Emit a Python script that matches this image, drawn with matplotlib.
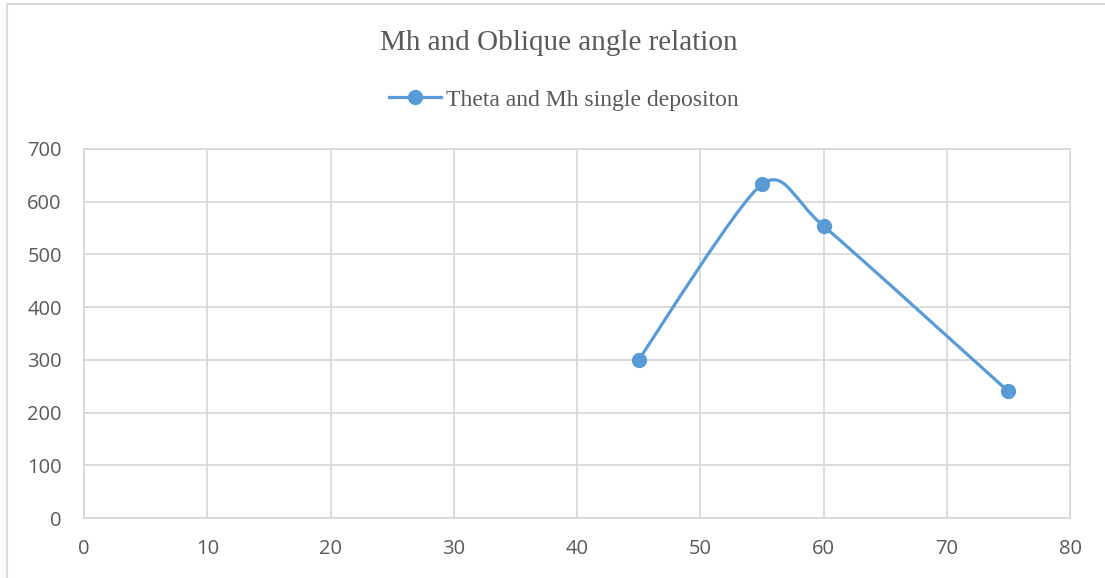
import matplotlib.pyplot as plt
from matplotlib.path import Path
from matplotlib.patches import PathPatch
from matplotlib.lines import Line2D

theta = [45, 55, 60, 75]
mh = [300, 633, 554, 240]
x_ticks = [0, 10, 20, 30, 40, 50, 60, 70, 80]
y_ticks = [0, 100, 200, 300, 400, 500, 600, 700]

blue = "#5B9BD5"
grid_c = "#D9D9D9"
text_c = "#595959"

fig = plt.figure(figsize=(11.05, 5.78), dpi=100)
ax = fig.add_axes([84 / 1105, 60 / 578, 986 / 1105, 369 / 578])

# smoothed line (Excel style) as cubic bezier through the points
k = 1 / 8
pts = list(zip(theta, mh))
verts = [pts[0]]
codes = [Path.MOVETO]
for i in range(len(pts) - 1):
    p0 = pts[max(i - 1, 0)]
    p1 = pts[i]
    p2 = pts[i + 1]
    p3 = pts[min(i + 2, len(pts) - 1)]
    c1 = (p1[0] + (p2[0] - p0[0]) * k, p1[1] + (p2[1] - p0[1]) * k)
    c2 = (p2[0] - (p3[0] - p1[0]) * k, p2[1] - (p3[1] - p1[1]) * k)
    verts += [c1, c2, p2]
    codes += [Path.CURVE4] * 3
ax.add_patch(PathPatch(Path(verts, codes), facecolor="none", edgecolor=blue,
                       linewidth=2.3, capstyle="round", zorder=3))
ax.plot(theta, mh, "o", color=blue, markersize=10, zorder=4)

ax.set_xlim(0, 80)
ax.set_ylim(0, 700)
ax.set_xticks(x_ticks)
ax.set_yticks(y_ticks)
ax.grid(color=grid_c, linewidth=1.3)
ax.set_axisbelow(True)
for s in ax.spines.values():
    s.set_color(grid_c)
    s.set_linewidth(1.3)
ax.tick_params(length=0, labelsize=14.5, labelcolor=text_c)
ax.tick_params(axis="y", pad=16)
ax.tick_params(axis="x", pad=15)
for lab in ax.get_xticklabels() + ax.get_yticklabels():
    lab.set_fontfamily("Open Sans")

fig.text(0.506, 1 - 43 / 578, "Mh and Oblique angle relation", ha="center", va="center",
         fontsize=21, color=text_c, family="Liberation Serif")
handle = Line2D([], [], color=blue, linewidth=2.3, marker="o", markersize=10)
fig.legend([handle], ["Theta and Mh single depositon"], loc="center",
           bbox_to_anchor=(0.510, 1 - 100 / 578), frameon=False,
           prop={"family": "Liberation Serif", "size": 17}, labelcolor=text_c,
           handlelength=2.2, handletextpad=0.2)

# chart border
fig.add_artist(Line2D([7 / 1105, 7 / 1105], [0, 1 - 4 / 578], color=grid_c, linewidth=1.5))
fig.add_artist(Line2D([7 / 1105, 1], [1 - 4 / 578, 1 - 4 / 578], color=grid_c, linewidth=1.5))

fig.savefig("out.png", dpi=100)
